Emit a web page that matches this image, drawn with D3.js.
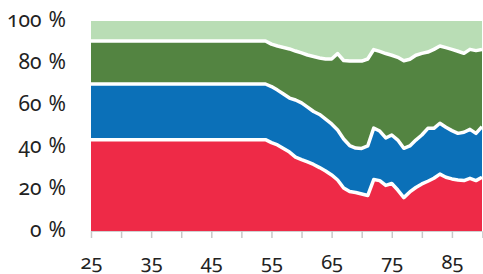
<!DOCTYPE html>
<html>
<head>
<meta charset="utf-8">
<script src="https://cdn.jsdelivr.net/npm/d3@7"></script>
<style>
  body { margin: 0; background: #fff; }
  svg text { font-family: "Noto Sans", "Lato", sans-serif; font-feature-settings: "onum" 1; font-variant-numeric: oldstyle-nums; fill: #222; }
</style>
</head>
<body>
<svg id="chart"></svg>
<script>
// ages (flat from 25 to 54, yearly afterwards)
const ages = [25, 54, 55, 56, 57, 58, 59, 60, 61, 62, 63, 64, 65, 66, 67, 68, 69, 70, 71, 72,
  73, 74, 75, 76, 77, 78, 79, 80, 81, 82, 83, 84, 85, 86, 87, 88, 89, 90];

// shares in percent, bottom to top
const red = [43.5, 43.5, 42.1, 41.0, 39.3, 37.6, 35.2, 34.0, 32.9, 31.7, 30.2, 28.6, 26.7, 24.3, 20.5, 18.8, 18.3, 17.6, 16.9, 24.5,
  24.0, 21.7, 22.6, 19.5, 15.9, 18.6, 20.7, 22.4, 23.7, 25.1, 27.1, 25.6, 24.8, 24.3, 24.0, 25.1, 24.0, 25.6];
const blue = [26.5, 26.5, 26.7, 26.1, 25.9, 25.7, 27.2, 27.0, 26.1, 25.2, 25.3, 24.7, 24.3, 23.8, 23.3, 21.9, 21.2, 21.7, 23.6, 24.5,
  23.6, 22.6, 23.1, 23.8, 23.5, 21.9, 22.6, 23.3, 25.2, 23.8, 24.2, 23.8, 23.0, 22.2, 23.0, 23.3, 22.5, 24.1];
const darkGreen = [20.5, 20.5, 20.2, 21.0, 22.2, 23.4, 23.3, 23.8, 24.8, 26.2, 26.9, 28.6, 30.9, 36.4, 37.4, 40.2, 41.4, 41.6, 41.4, 37.4,
  37.9, 40.2, 38.0, 39.4, 41.7, 41.3, 40.4, 38.9, 36.3, 37.6, 36.8, 37.9, 38.7, 39.1, 37.6, 38.1, 39.4, 36.8];
const lightGreen = [9.5, 9.5, 11.0, 11.9, 12.6, 13.3, 14.3, 15.2, 16.2, 16.9, 17.6, 18.1, 18.1, 15.5, 18.8, 19.1, 19.1, 19.1, 18.1, 13.6,
  14.5, 15.5, 16.3, 17.3, 18.9, 18.2, 16.3, 15.4, 14.8, 13.5, 11.9, 12.7, 13.5, 14.4, 15.4, 13.5, 14.1, 13.5];

const xTicks = [25, 30, 35, 40, 45, 50, 55, 60, 65, 70, 75, 80, 85];
const xLabels = [25, 35, 45, 55, 65, 75, 85];
const yTicks = [0, 20, 40, 60, 80, 100];

const keys = ["red", "blue", "darkGreen", "lightGreen"];
const colors = ["#ee2a47", "#0b70b8", "#538441", "#b9ddb5"];

const W = 483, H = 274;
const svg = d3.select("#chart").attr("width", W).attr("height", H);

const x = d3.scaleLinear().domain([25, 90]).range([91, 482]);
const y = d3.scaleLinear().domain([0, 100]).range([231, 21]);

const rows = ages.map((a, i) => ({
  age: a, red: red[i], blue: blue[i], darkGreen: darkGreen[i], lightGreen: lightGreen[i]
}));

const stacked = d3.stack().keys(keys)(rows);

svg.append("clipPath").attr("id", "plot")
  .append("rect")
  .attr("x", x(25)).attr("y", y(100))
  .attr("width", x(90) - x(25)).attr("height", y(0) - y(100));

const area = d3.area()
  .x(d => x(d.data.age))
  .y0(d => y(d[0]))
  .y1(d => y(d[1]));

const g = svg.append("g").attr("clip-path", "url(#plot)");

g.selectAll("path.layer")
  .data(stacked)
  .join("path")
  .attr("class", "layer")
  .attr("fill", (d, i) => colors[i])
  .attr("d", area);

// white separators between the layers
const line = d3.line()
  .x(d => x(d.data.age))
  .y(d => y(d[1]));

g.selectAll("path.sep")
  .data(stacked.slice(0, 3))
  .join("path")
  .attr("class", "sep")
  .attr("fill", "none")
  .attr("stroke", "#fff")
  .attr("stroke-width", 3.5)
  .attr("stroke-linejoin", "round")
  .attr("d", line);

// x axis
const xAxis = svg.append("g")
  .attr("transform", `translate(0,${y(0)})`)
  .call(d3.axisBottom(x)
    .tickValues(xTicks)
    .tickSize(7)
    .tickFormat(d => xLabels.includes(d) ? d : ""));

xAxis.select(".domain").attr("stroke", "#d0d0d0");
xAxis.selectAll(".tick line").attr("stroke", "#c8c8c8").attr("stroke-width", 1.5);
xAxis.selectAll(".tick text")
  .attr("y", 38)
  .attr("dy", 0)
  .style("font-size", "20px");

// y labels
svg.append("g")
  .selectAll("text")
  .data(yTicks)
  .join("text")
  .attr("x", 66)
  .attr("y", d => y(d) + 6)
  .attr("text-anchor", "end")
  .style("font-size", "21px")
  .text(d => `${d}\u2004%`);
</script>
</body>
</html>
